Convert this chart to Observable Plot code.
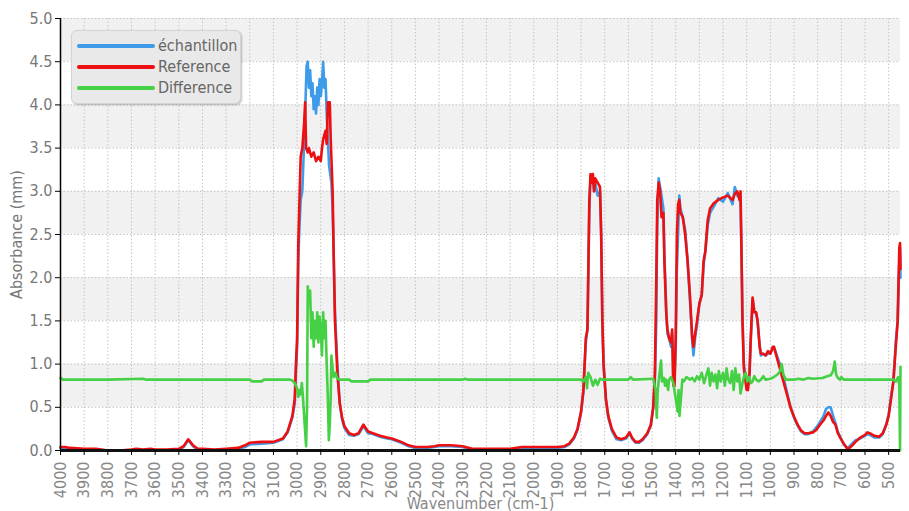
<!DOCTYPE html>
<html>
<head>
<meta charset="utf-8">
<script src="https://cdn.jsdelivr.net/npm/d3@7"></script>
<script src="https://cdn.jsdelivr.net/npm/@observablehq/plot@0.6"></script>
<style>
  html, body { margin: 0; padding: 0; background: #fff; }
  #wrap { position: relative; width: 909px; height: 511px; font-family: "Liberation Sans Narrow", "DejaVu Sans Condensed", sans-serif; }
  #legend { position: absolute; left: 71px; top: 30px; width: 168px; height: 72px; background: #e9e9e9; border: 1px solid #d4d4d4; border-radius: 6px; box-shadow: 1px 1px 2px rgba(0,0,0,0.25); }
  .item { position: absolute; left: 5px; height: 20px; display: flex; align-items: center; }
  .sw { width: 78px; height: 4px; border-radius: 2px; margin-right: 3px; }
  .lab { font-size: 16px; color: #666; line-height: 16px; }
</style>
</head>
<body>
<div id="wrap"></div>
<script>
// ---- Data (wavenumber cm-1, absorbance) ----
const seriesNames = ["échantillon", "Reference", "Difference"];
const seriesColors = ["#3d9be9", "#ee1010", "#45d045"];

const xTicks = [4000,3900,3800,3700,3600,3500,3400,3300,3200,3100,3000,2900,2800,2700,2600,2500,2400,2300,2200,2100,2000,1900,1800,1700,1600,1500,1400,1300,1200,1100,1000,900,800,700,600,500];
const yTicks = [0,0.5,1,1.5,2,2.5,3,3.5,4,4.5,5];
const bandsLow = [0.5, 1.5, 2.5, 3.5, 4.5];
const bandsHigh = [1.0, 2.0, 3.0, 4.0, 5.0];

const reference = [
[4000,0.04],[3980,0.04],[3960,0.03],[3900,0.02],[3850,0.02],[3800,0.0],[3750,0.0],[3700,0.01],[3680,0.02],[3650,0.01],[3620,0.02],[3600,0.01],[3550,0.01],[3500,0.02],[3480,0.05],[3460,0.13],[3440,0.06],[3420,0.02],[3400,0.02],[3350,0.01],[3300,0.02],[3250,0.03],[3220,0.06],[3200,0.09],[3150,0.1],[3100,0.1],[3060,0.14],[3040,0.22],[3020,0.4],[3010,0.6],[3005,1.0],[3000,1.3],[2995,2.4],[2990,2.9],[2985,3.4],[2978,3.5],[2970,3.8],[2966,4.03],[2962,3.5],[2955,3.45],[2950,3.5],[2940,3.4],[2930,3.45],[2920,3.35],[2910,3.4],[2900,3.35],[2895,3.5],[2890,3.6],[2880,3.7],[2875,3.55],[2870,4.03],[2862,4.03],[2858,3.6],[2850,3.0],[2845,2.2],[2840,1.5],[2830,0.9],[2820,0.55],[2810,0.38],[2800,0.28],[2780,0.2],[2760,0.18],[2740,0.2],[2720,0.3],[2700,0.22],[2680,0.2],[2650,0.17],[2620,0.15],[2600,0.14],[2560,0.1],[2530,0.06],[2500,0.04],[2450,0.04],[2420,0.05],[2400,0.06],[2350,0.06],[2300,0.05],[2260,0.02],[2200,0.02],[2150,0.02],[2100,0.02],[2050,0.04],[2000,0.04],[1950,0.04],[1900,0.04],[1870,0.05],[1850,0.08],[1830,0.15],[1815,0.25],[1800,0.45],[1790,0.7],[1780,1.3],[1773,1.4],[1765,2.9],[1760,3.2],[1755,3.1],[1750,3.2],[1745,3.0],[1740,3.15],[1730,3.1],[1720,3.05],[1715,2.5],[1710,1.5],[1705,1.0],[1695,0.6],[1685,0.4],[1670,0.25],[1650,0.15],[1630,0.13],[1610,0.15],[1595,0.21],[1585,0.15],[1570,0.1],[1555,0.1],[1540,0.13],[1520,0.2],[1505,0.3],[1495,0.5],[1488,0.9],[1482,2.0],[1478,2.9],[1472,3.1],[1466,3.0],[1460,2.7],[1452,2.75],[1448,2.2],[1440,1.6],[1435,1.4],[1428,1.3],[1420,1.25],[1415,1.4],[1410,0.75],[1405,0.75],[1400,1.3],[1395,2.5],[1390,2.85],[1385,2.9],[1380,2.75],[1370,2.7],[1360,2.5],[1350,2.2],[1340,1.8],[1330,1.3],[1325,1.2],[1318,1.35],[1310,1.5],[1300,1.7],[1290,1.8],[1282,2.2],[1275,2.3],[1265,2.66],[1255,2.8],[1240,2.86],[1220,2.9],[1200,2.93],[1180,2.95],[1160,2.9],[1150,2.97],[1140,3.0],[1130,2.9],[1126,3.0],[1122,2.3],[1118,1.5],[1112,0.95],[1105,0.8],[1100,0.7],[1095,0.7],[1088,0.9],[1083,1.3],[1078,1.6],[1075,1.77],[1068,1.6],[1060,1.6],[1054,1.5],[1045,1.2],[1040,1.12],[1030,1.12],[1020,1.1],[1010,1.15],[1000,1.12],[990,1.2],[985,1.2],[975,1.1],[960,0.95],[945,0.8],[930,0.65],[915,0.5],[900,0.39],[885,0.3],[870,0.23],[855,0.2],[840,0.2],[820,0.21],[805,0.24],[790,0.3],[775,0.35],[765,0.4],[755,0.44],[745,0.4],[735,0.33],[725,0.3],[715,0.2],[705,0.15],[690,0.08],[675,0.02],[665,0.03],[650,0.07],[640,0.1],[620,0.15],[600,0.18],[590,0.21],[580,0.2],[560,0.17],[540,0.16],[525,0.2],[510,0.3],[500,0.4],[490,0.6],[480,0.8],[470,1.2],[462,1.5],[458,2.0],[455,2.35],[452,2.4],[450,2.1]
];

const sample = [
[4000,0.03],[3980,0.03],[3960,0.02],[3900,0.01],[3850,0.01],[3800,0.0],[3750,0.0],[3700,0.0],[3680,0.01],[3650,0.0],[3620,0.01],[3600,0.0],[3550,0.0],[3500,0.01],[3480,0.04],[3460,0.12],[3440,0.05],[3420,0.01],[3400,0.01],[3350,0.0],[3300,0.01],[3250,0.02],[3220,0.04],[3200,0.07],[3150,0.08],[3100,0.09],[3060,0.13],[3040,0.21],[3020,0.38],[3010,0.55],[3005,0.9],[3000,1.2],[2995,2.2],[2990,2.6],[2985,2.9],[2978,3.0],[2970,3.6],[2965,4.0],[2960,4.45],[2955,4.5],[2950,4.2],[2945,4.4],[2940,4.1],[2935,4.25],[2930,3.95],[2925,4.1],[2920,3.9],[2915,4.2],[2910,4.0],[2905,4.3],[2900,4.1],[2895,4.25],[2890,4.5],[2885,4.2],[2880,4.3],[2875,3.9],[2870,3.6],[2865,3.3],[2860,3.2],[2855,3.1],[2850,2.8],[2845,2.2],[2840,1.6],[2830,1.0],[2820,0.55],[2810,0.36],[2800,0.26],[2780,0.18],[2760,0.17],[2740,0.19],[2720,0.28],[2700,0.2],[2680,0.19],[2650,0.16],[2620,0.14],[2600,0.13],[2560,0.09],[2530,0.05],[2500,0.03],[2450,0.03],[2420,0.04],[2400,0.05],[2350,0.05],[2300,0.04],[2260,0.01],[2200,0.01],[2150,0.01],[2100,0.01],[2050,0.03],[2000,0.03],[1950,0.03],[1900,0.03],[1870,0.04],[1850,0.07],[1830,0.14],[1815,0.24],[1800,0.44],[1790,0.68],[1780,1.25],[1773,1.4],[1765,2.8],[1760,3.15],[1755,3.1],[1750,3.15],[1745,3.0],[1740,3.1],[1730,2.95],[1720,3.0],[1715,2.5],[1710,1.5],[1705,1.0],[1695,0.58],[1685,0.38],[1670,0.23],[1650,0.13],[1630,0.12],[1610,0.14],[1595,0.2],[1585,0.14],[1570,0.09],[1555,0.09],[1540,0.12],[1520,0.19],[1505,0.29],[1495,0.5],[1488,0.8],[1482,1.5],[1478,2.6],[1472,3.15],[1466,3.05],[1460,2.95],[1452,2.8],[1448,2.3],[1440,1.6],[1435,1.35],[1428,1.3],[1420,1.2],[1415,1.35],[1410,0.8],[1405,0.85],[1400,1.2],[1395,2.1],[1390,2.5],[1385,2.95],[1380,2.8],[1370,2.7],[1360,2.55],[1350,2.2],[1340,1.75],[1330,1.25],[1325,1.1],[1318,1.3],[1310,1.45],[1300,1.7],[1290,1.8],[1282,2.15],[1275,2.3],[1265,2.6],[1255,2.75],[1240,2.82],[1220,2.92],[1200,2.88],[1180,2.98],[1160,2.85],[1150,3.05],[1140,2.95],[1130,2.92],[1126,2.85],[1122,2.3],[1118,1.6],[1112,1.0],[1105,0.85],[1100,0.75],[1095,0.72],[1088,0.9],[1083,1.25],[1078,1.55],[1075,1.75],[1068,1.62],[1060,1.58],[1054,1.5],[1045,1.2],[1040,1.1],[1030,1.12],[1020,1.1],[1010,1.12],[1000,1.13],[990,1.18],[985,1.2],[975,1.12],[960,1.0],[945,0.85],[930,0.68],[915,0.5],[900,0.38],[885,0.29],[870,0.22],[855,0.19],[840,0.19],[820,0.22],[805,0.27],[790,0.33],[775,0.4],[765,0.48],[755,0.5],[745,0.5],[735,0.4],[725,0.32],[715,0.22],[705,0.16],[690,0.07],[675,0.03],[665,0.05],[650,0.09],[640,0.12],[620,0.14],[600,0.17],[590,0.19],[580,0.18],[560,0.15],[540,0.15],[525,0.19],[510,0.3],[500,0.42],[490,0.62],[480,0.8],[470,1.25],[462,1.5],[458,1.9],[455,2.2],[452,2.35],[450,2.0]
];

const difference = [
[4000,0.84],[3990,0.82],[3800,0.82],[3650,0.83],[3640,0.82],[3200,0.82],[3190,0.8],[3150,0.8],[3140,0.82],[3030,0.82],[3020,0.81],[3010,0.78],[3000,0.72],[2995,0.62],[2990,0.7],[2985,0.65],[2980,0.78],[2975,0.6],[2968,0.3],[2962,0.05],[2958,0.5],[2955,1.9],[2950,1.7],[2945,1.85],[2940,1.3],[2935,1.6],[2930,1.2],[2925,1.5],[2920,1.3],[2915,1.6],[2910,1.25],[2905,1.55],[2900,1.4],[2895,1.1],[2890,1.6],[2885,1.3],[2880,1.5],[2875,1.0],[2870,0.6],[2866,0.12],[2862,0.3],[2858,0.6],[2855,1.1],[2850,0.95],[2845,0.85],[2838,0.9],[2830,0.83],[2820,0.82],[2780,0.82],[2770,0.8],[2700,0.8],[2690,0.82],[2300,0.82],[2290,0.83],[2280,0.82],[1800,0.82],[1790,0.8],[1780,0.85],[1775,0.72],[1770,0.9],[1760,0.85],[1750,0.75],[1740,0.82],[1730,0.76],[1720,0.83],[1710,0.82],[1600,0.82],[1590,0.85],[1580,0.82],[1495,0.83],[1485,0.7],[1480,0.38],[1476,0.7],[1470,0.85],[1462,1.04],[1458,0.8],[1450,0.84],[1445,0.75],[1440,0.82],[1432,0.7],[1428,0.82],[1420,0.85],[1410,0.78],[1400,0.6],[1392,0.45],[1388,0.7],[1384,0.4],[1378,0.6],[1372,0.82],[1365,0.8],[1355,0.85],[1340,0.82],[1330,0.84],[1320,0.8],[1310,0.86],[1300,0.82],[1290,0.9],[1280,0.78],[1270,0.88],[1262,0.95],[1255,0.75],[1248,0.9],[1240,0.8],[1232,0.88],[1225,0.72],[1218,0.92],[1210,0.8],[1200,0.9],[1192,0.75],[1185,0.95],[1178,0.82],[1170,0.78],[1162,0.92],[1155,0.7],[1148,0.95],[1140,0.8],[1132,0.88],[1126,0.66],[1120,0.75],[1112,0.85],[1104,0.9],[1098,0.8],[1090,0.85],[1082,0.78],[1075,0.8],[1068,0.86],[1060,0.82],[1050,0.8],[1040,0.82],[1030,0.86],[1020,0.82],[1000,0.83],[985,0.85],[970,0.88],[958,0.92],[952,1.0],[945,0.88],[935,0.82],[900,0.82],[880,0.83],[860,0.82],[840,0.84],[820,0.83],[780,0.84],[760,0.86],[745,0.87],[735,0.92],[728,1.03],[722,0.88],[715,0.84],[705,0.82],[700,0.85],[690,0.82],[500,0.82],[480,0.82],[470,0.8],[460,0.85],[455,0.75],[452,0.0],[450,0.97]
];

// ---- Build ----
const bands = bandsLow.map((lo, i) => ({y1: lo, y2: bandsHigh[i]}));
const font = "'Liberation Sans Narrow', 'DejaVu Sans Condensed', sans-serif";

const chart = Plot.plot({
  width: 909,
  height: 511,
  marginLeft: 60,
  marginRight: 9,
  marginTop: 18,
  marginBottom: 61,
  style: {fontFamily: font, background: "#fff"},
  x: {domain: [4000, 450]},
  y: {domain: [0, 5]},
  marks: [
    Plot.rect(bands, {y1: "y1", y2: "y2", fill: "#f1f1f1"}),
    Plot.gridX(xTicks, {stroke: "#c4c4c4", strokeOpacity: 1, strokeDasharray: "1.5,2"}),
    Plot.gridY(yTicks, {stroke: "#c4c4c4", strokeOpacity: 1, strokeDasharray: "1.5,2"}),
    Plot.line(sample, {x: d => d[0], y: d => d[1], stroke: seriesColors[0], strokeWidth: 2.6}),
    Plot.line(reference, {x: d => d[0], y: d => d[1], stroke: seriesColors[1], strokeWidth: 2.6}),
    Plot.line(difference, {x: d => d[0], y: d => d[1], stroke: seriesColors[2], strokeWidth: 2.6}),
    Plot.ruleX([4000], {stroke: "#000", strokeWidth: 1.5}),
    Plot.ruleY([0], {stroke: "#111", strokeWidth: 3}),
    Plot.axisY({ticks: yTicks, tickFormat: d3.format(".1f"), tickSize: 5, tickPadding: 3, fontSize: 16, fill: "#777", stroke: "#000",
      label: "Absorbance (mm)", labelAnchor: "center", labelArrow: "none", labelOffset: 50}),
    Plot.axisX({ticks: xTicks, tickFormat: d => String(d), tickRotate: -90, tickSize: 5, tickPadding: 6, fontSize: 16, fill: "#888", stroke: "#000",
      label: "Wavenumber (cm-1)", labelAnchor: "center", labelArrow: "none", labelOffset: 58})
  ]
});

const wrap = document.getElementById("wrap");
wrap.appendChild(chart);

const legend = document.createElement("div");
legend.id = "legend";
seriesNames.forEach((name, i) => {
  const item = document.createElement("div");
  item.className = "item";
  item.style.top = (5 + i * 21) + "px";
  const sw = document.createElement("div");
  sw.className = "sw";
  sw.style.background = seriesColors[i];
  const lab = document.createElement("span");
  lab.className = "lab";
  lab.textContent = name;
  item.appendChild(sw);
  item.appendChild(lab);
  legend.appendChild(item);
});
wrap.appendChild(legend);
</script>
</body>
</html>
